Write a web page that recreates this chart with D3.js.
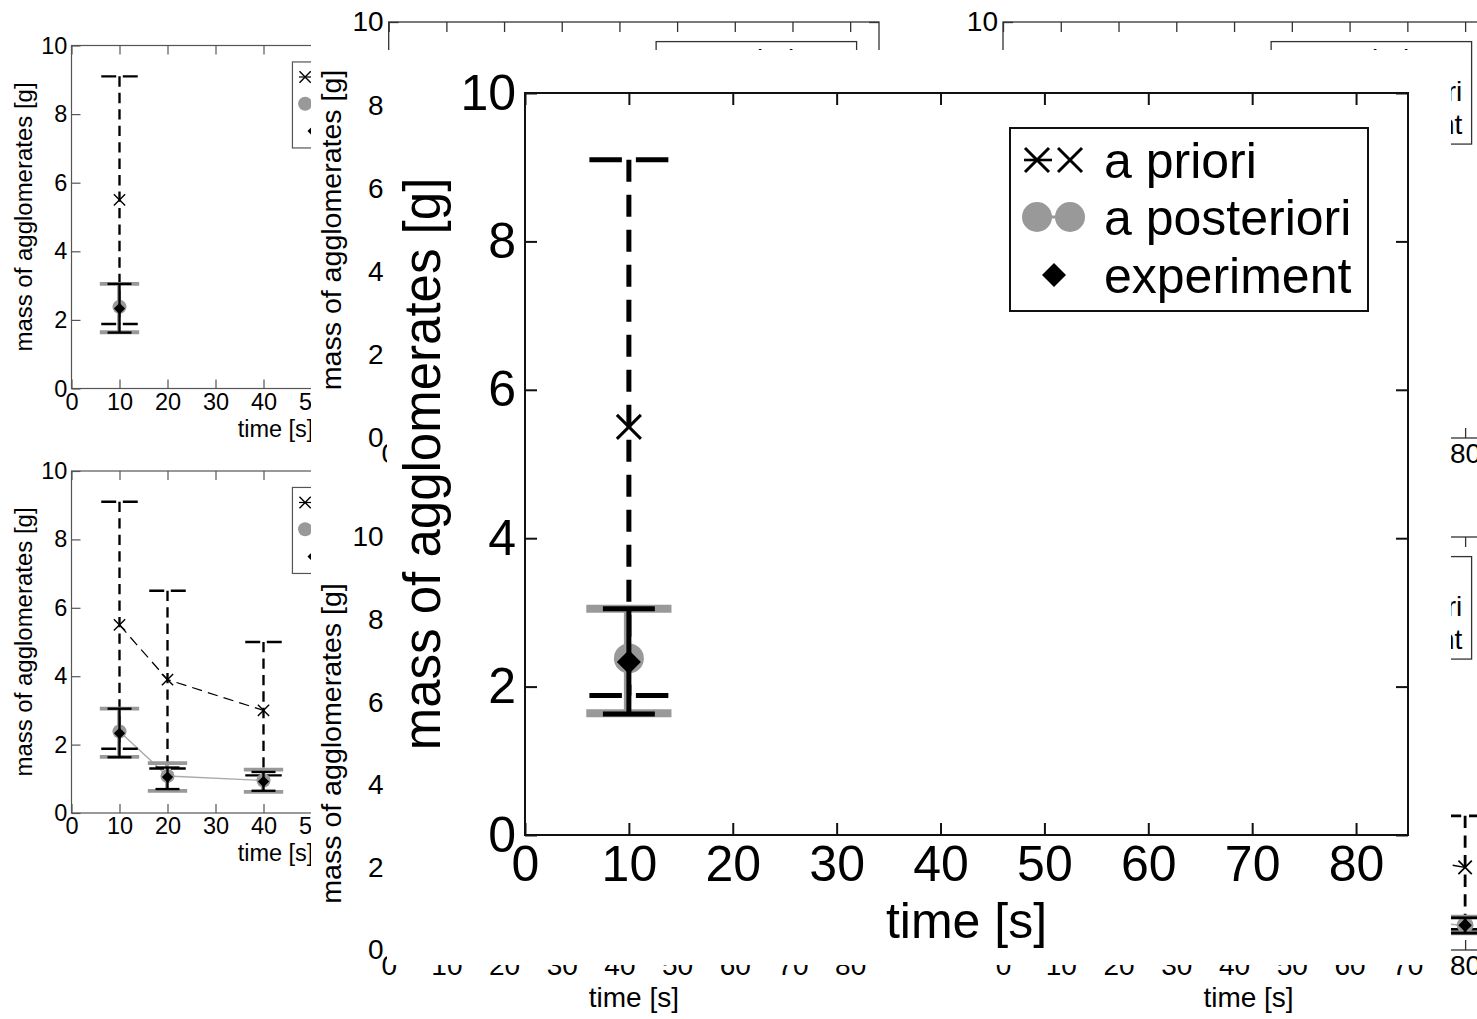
<!DOCTYPE html>
<html>
<head>
<meta charset="utf-8">
<script src="https://cdn.jsdelivr.net/npm/d3@7"></script>
<style>
  body { margin: 0; background: #fff; }
  svg { display: block; }
</style>
</head>
<body>
<script>
// values (time in s, mass in g)
var timePoints     = [10, 20, 40, 80];
var aprioriMean    = [5.5, 3.9, 3.0, 2.0];
var aprioriHigh    = [9.1, 6.5, 5.0, 3.25];
var aprioriLow     = [1.88, 1.3, 1.1, 0.5];
var posterioriMean = [2.38, 1.08, 0.95, 0.6];
var posterioriHigh = [3.05, 1.46, 1.27, 0.8];
var posterioriLow  = [1.64, 0.65, 0.62, 0.41];
var experimentMean = [2.33, 1.05, 0.92, 0.6];
var experimentHigh = [3.05, 1.33, 1.2, 0.78];
var experimentLow  = [1.63, 0.7, 0.65, 0.41];

var xTickValues = [0, 10, 20, 30, 40, 50, 60, 70, 80];
var yTickValues = [0, 2, 4, 6, 8, 10];
var legendNames = ["a priori", "a posteriori", "experiment"];
var xLabel = "time [s]";
var yLabel = "mass of agglomerates [g]";

var FONT = "'Liberation Sans', Arial, Helvetica, sans-serif";
var GREY = "#999";

var width = 1477, height = 1019;

var svg = d3.select("body").append("svg")
            .attr("width", width)
            .attr("height", height);

svg.append("rect")
   .attr("width", width).attr("height", height)
   .attr("fill", "#fff");

// draws one matlab style axes box with its error bars
function drawPanel(p) {
    var k = p.fs / 50;
    var g = svg.append("g");

    var x = d3.scaleLinear().domain([0, 85]).range([p.left, p.right]);
    var y = d3.scaleLinear().domain([0, 10]).range([p.bottom, p.top]);

    // box
    g.append("rect")
     .attr("x", p.left).attr("y", p.top)
     .attr("width", p.right - p.left).attr("height", p.bottom - p.top)
     .attr("fill", "none")
     .attr("stroke", p.axisColor)
     .attr("stroke-width", p.axisWidth);

    // ticks on all four sides, pointing inwards
    var axes = [];
    axes.push(g.append("g").attr("transform", "translate(0," + p.bottom + ")")
       .call(d3.axisBottom(x).tickValues(xTickValues).tickSize(-p.tick).tickPadding(0.2 * p.fs)));
    axes.push(g.append("g").attr("transform", "translate(0," + p.top + ")")
       .call(d3.axisTop(x).tickValues(xTickValues).tickSize(-p.tick).tickFormat("")));
    axes.push(g.append("g").attr("transform", "translate(" + p.left + ",0)")
       .call(d3.axisLeft(y).tickValues(yTickValues).tickSize(-p.tick).tickPadding(0.18 * p.fs)));
    axes.push(g.append("g").attr("transform", "translate(" + p.right + ",0)")
       .call(d3.axisRight(y).tickValues(yTickValues).tickSize(-p.tick).tickFormat("")));
    axes.forEach(function(a) {
        a.attr("font-size", p.fs).attr("font-family", FONT).attr("color", p.axisColor);
        a.select(".domain").remove();
        a.selectAll(".tick line").attr("stroke-width", p.axisWidth);
        a.selectAll(".tick text").attr("fill", "#000");
    });

    // axis labels
    g.append("text")
     .attr("x", (p.left + p.right) / 2)
     .attr("y", p.bottom + 2.05 * p.fs)
     .attr("text-anchor", "middle")
     .attr("font-family", FONT).attr("font-size", p.fs)
     .text(xLabel);
    g.append("text")
     .attr("transform", "translate(" + (p.left - 1.7 * p.fs) + "," + ((p.top + p.bottom) / 2) + ") rotate(-90)")
     .attr("text-anchor", "middle")
     .attr("font-family", FONT).attr("font-size", p.fs * 1.02)
     .text(yLabel);

    var idx = d3.range(p.n);
    var dash = (22 * k) + " " + (13 * k);

    // connecting lines
    if (p.n > 1) {
        g.append("path")
         .datum(idx)
         .attr("fill", "none").attr("stroke", "#000")
         .attr("stroke-width", 2.6 * k).attr("stroke-dasharray", dash)
         .attr("d", d3.line().x(function(i) { return x(timePoints[i]); })
                             .y(function(i) { return y(aprioriMean[i]); }));
        g.append("path")
         .datum(idx)
         .attr("fill", "none").attr("stroke", "#aaa")
         .attr("stroke-width", 3 * k)
         .attr("d", d3.line().x(function(i) { return x(timePoints[i]); })
                             .y(function(i) { return y(posterioriMean[i]); }));
    }

    // a priori: dashed bars, caps with a gap at the middle
    var capA = x(3.8) - x(0);
    idx.forEach(function(i) {
        var cx = x(timePoints[i]);
        g.append("line")
         .attr("x1", cx).attr("x2", cx)
         .attr("y1", y(aprioriHigh[i])).attr("y2", y(aprioriLow[i]))
         .attr("stroke", "#000").attr("stroke-width", 5 * k)
         .attr("stroke-dasharray", dash);
        [aprioriHigh[i], aprioriLow[i]].forEach(function(v) {
            g.append("line")
             .attr("x1", cx - capA).attr("x2", cx + capA)
             .attr("y1", y(v)).attr("y2", y(v))
             .attr("stroke", "#000").attr("stroke-width", 5 * k)
             .attr("stroke-dasharray", (capA - 7 * k) + " " + (14 * k));
        });
        var h = 12 * k, my = y(aprioriMean[i]);
        g.append("path")
         .attr("d", "M" + (cx - h) + "," + (my - h) + "L" + (cx + h) + "," + (my + h) +
                    "M" + (cx - h) + "," + (my + h) + "L" + (cx + h) + "," + (my - h))
         .attr("stroke", "#000").attr("stroke-width", 3 * k);
    });

    // a posteriori: thick grey bars and circles
    var capP = x(4.1) - x(0);
    idx.forEach(function(i) {
        var cx = x(timePoints[i]);
        g.append("line")
         .attr("x1", cx - 1.5 * k).attr("x2", cx - 1.5 * k)
         .attr("y1", y(posterioriHigh[i])).attr("y2", y(posterioriLow[i]))
         .attr("stroke", GREY).attr("stroke-width", 7 * k);
        [posterioriHigh[i], posterioriLow[i]].forEach(function(v) {
            g.append("line")
             .attr("x1", cx - capP).attr("x2", cx + capP)
             .attr("y1", y(v)).attr("y2", y(v))
             .attr("stroke", GREY).attr("stroke-width", 8 * k);
        });
        g.append("circle")
         .attr("cx", cx).attr("cy", y(posterioriMean[i]))
         .attr("r", 15 * k).attr("fill", GREY);
    });

    // experiment: black bars and diamonds
    var capE = x(2.5) - x(0);
    idx.forEach(function(i) {
        var cx = x(timePoints[i]);
        g.append("line")
         .attr("x1", cx).attr("x2", cx)
         .attr("y1", y(experimentHigh[i])).attr("y2", y(experimentLow[i]))
         .attr("stroke", "#000").attr("stroke-width", 5 * k);
        [experimentHigh[i], experimentLow[i]].forEach(function(v) {
            g.append("line")
             .attr("x1", cx - capE).attr("x2", cx + capE)
             .attr("y1", y(v)).attr("y2", y(v))
             .attr("stroke", "#000").attr("stroke-width", 5 * k);
        });
        var d = 12 * k, dy = y(experimentMean[i]);
        g.append("path")
         .attr("d", "M" + cx + "," + (dy - d) + "L" + (cx + d) + "," + dy +
                    "L" + cx + "," + (dy + d) + "L" + (cx - d) + "," + dy + "Z")
         .attr("fill", "#000");
    });

    // legend
    var lw = 358 * k, lh = 183 * k;
    var lx = p.right - 40 * k - lw, ly = p.top + 35 * k;
    var lg = g.append("g").attr("transform", "translate(" + lx + "," + ly + ")");
    lg.append("rect")
      .attr("width", lw).attr("height", lh)
      .attr("fill", "#fff").attr("stroke", p.axisColor).attr("stroke-width", p.axisWidth);
    var rows = [32 * k, 89 * k, 147 * k];
    var m1 = 27 * k, m2 = 60 * k, h = 12 * k;
    lg.append("line")
      .attr("x1", 14 * k).attr("x2", 42 * k).attr("y1", rows[0]).attr("y2", rows[0])
      .attr("stroke", "#000").attr("stroke-width", 2.6 * k);
    [m1, m2].forEach(function(mx) {
        lg.append("path")
          .attr("d", "M" + (mx - h) + "," + (rows[0] - h) + "L" + (mx + h) + "," + (rows[0] + h) +
                     "M" + (mx - h) + "," + (rows[0] + h) + "L" + (mx + h) + "," + (rows[0] - h))
          .attr("stroke", "#000").attr("stroke-width", 3 * k);
    });
    lg.append("line")
      .attr("x1", m1).attr("x2", m2).attr("y1", rows[1]).attr("y2", rows[1])
      .attr("stroke", GREY).attr("stroke-width", 3 * k);
    [m1, m2].forEach(function(mx) {
        lg.append("circle").attr("cx", mx).attr("cy", rows[1]).attr("r", 15 * k).attr("fill", GREY);
    });
    var dm = 44 * k, dd = 12 * k;
    lg.append("path")
      .attr("d", "M" + dm + "," + (rows[2] - dd) + "L" + (dm + dd) + "," + rows[2] +
                 "L" + dm + "," + (rows[2] + dd) + "L" + (dm - dd) + "," + rows[2] + "Z")
      .attr("fill", "#000");
    lg.selectAll("text.name")
      .data(legendNames)
      .enter().append("text")
      .attr("class", "name")
      .attr("x", 94 * k)
      .attr("y", function(d, i) { return rows[i] + 0.35 * p.fs; })
      .attr("font-family", FONT).attr("font-size", p.fs)
      .text(function(d) { return d; });
}

// first figure, two small axes on the left
var smallStyle = { fs: 23.5, tick: 9, axisColor: "#555", axisWidth: 1.2 };
drawPanel(Object.assign({ left: 71.5, right: 479.5, top: 45.5, bottom: 388.5, n: 1 }, smallStyle));
drawPanel(Object.assign({ left: 71.5, right: 479.5, top: 471, bottom: 813, n: 3 }, smallStyle));

// second figure, 2x2 axes, covering the first one
svg.append("rect")
   .attr("x", 311).attr("y", 0)
   .attr("width", width - 311).attr("height", height)
   .attr("fill", "#fff");
var midStyle = { fs: 28, tick: 10, axisColor: "#333", axisWidth: 1.3 };
drawPanel(Object.assign({ left: 388.7, right: 879, top: 22, bottom: 438, n: 1 }, midStyle));
drawPanel(Object.assign({ left: 388.7, right: 879, top: 537, bottom: 950, n: 2 }, midStyle));
drawPanel(Object.assign({ left: 1003, right: 1494, top: 22, bottom: 438, n: 3 }, midStyle));
drawPanel(Object.assign({ left: 1003, right: 1494, top: 537, bottom: 950, n: 4 }, midStyle));

// large figure on top
svg.append("rect")
   .attr("x", 387).attr("y", 50)
   .attr("width", 1451 - 387).attr("height", 965 - 50)
   .attr("fill", "#fff");
drawPanel({ left: 525, right: 1408, top: 93, bottom: 835, n: 1,
            fs: 50, tick: 12, axisColor: "#111", axisWidth: 2 });
</script>
</body>
</html>
